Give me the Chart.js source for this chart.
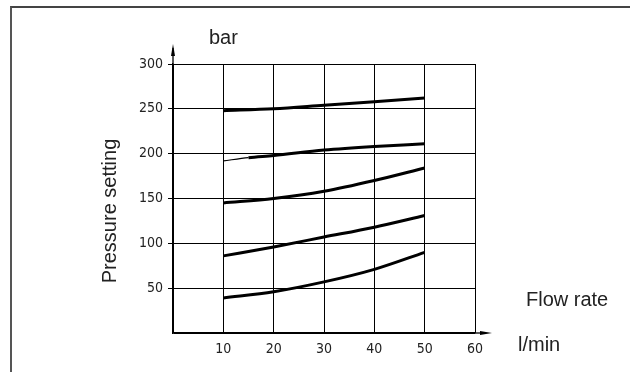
<!DOCTYPE html>
<html>
<head>
<meta charset="utf-8">
<script src="https://cdn.jsdelivr.net/npm/chart.js@4.4.1/dist/chart.umd.min.js"></script>
<style>
  body { margin: 0; background: #fff; }
  #wrap { position: relative; width: 630px; height: 372px; }
  #frame { position: absolute; left: 10px; top: 6px; right: 0; bottom: 0;
           border-left: 2px solid #555; border-top: 2px solid #444; }
  canvas { position: absolute; left: 0; top: 0; }
</style>
</head>
<body>
<div id="wrap">
  <div id="frame"></div>
  <canvas id="myChart" width="630" height="372"></canvas>
</div>
<script>
"use strict"

// flow rate in l/min
const flow = [10, 20, 30, 40, 50];
const flowB = [10, 15, 20, 30, 40, 50];

// pressure setting curves in bar
const curve250 = [248, 250, 254, 258, 262];
const curve200 = [192, 195.5, 198, 204, 208, 211];
const curve150 = [145, 150, 158, 170, 184];
const curve100 = [86, 96, 107, 118, 131];
const curve50 = [39, 46, 57, 71, 90];

const xTicks = [10, 20, 30, 40, 50, 60];
const yTicks = [50, 100, 150, 200, 250, 300];

const ctx = document.getElementById('myChart');
const tickFont = { family: '"DejaVu Sans Condensed", "DejaVu Sans", sans-serif', size: 14 };

function toPoints (xs, ys) {
    return xs.map((x, i) => ({ x: x, y: ys[i] }));
}

function line (xs, ys) {
    return {
        data: toPoints(xs, ys),
        borderColor: '#000',
        borderWidth: 3,
        pointRadius: 0,
        cubicInterpolationMode: 'monotone',
        fill: false,
    };
}

const set200 = line(flowB, curve200);
// first bit of this curve is drawn thin
set200.segment = { borderWidth: c => c.p0DataIndex === 0 ? 1.2 : 3 };

const decorations = {
    id: 'decorations',
    afterDraw(chart) {
        const c = chart.ctx;
        const a = chart.chartArea;
        c.save();
        c.strokeStyle = '#000';
        c.fillStyle = '#000';
        c.lineWidth = 1.3;

        // y axis arrow
        c.beginPath();
        c.moveTo(a.left, a.top);
        c.lineTo(a.left, 48);
        c.stroke();
        c.beginPath();
        c.moveTo(a.left, 44);
        c.lineTo(a.left - 2, 56);
        c.lineTo(a.left + 2, 56);
        c.closePath();
        c.fill();

        // x axis arrow
        c.beginPath();
        c.moveTo(a.right, a.bottom);
        c.lineTo(486, a.bottom);
        c.stroke();
        c.beginPath();
        c.moveTo(492, a.bottom);
        c.lineTo(480, a.bottom - 2);
        c.lineTo(480, a.bottom + 2);
        c.closePath();
        c.fill();

        // labels
        c.fillStyle = '#222';
        c.font = '20px "Liberation Sans", Arial, sans-serif';
        c.textBaseline = 'middle';
        c.textAlign = 'left';
        c.fillText('bar', 209, 38);
        c.fillText('Flow rate', 526, 300);
        c.fillText('l/min', 518, 345);

        c.translate(110, 211);
        c.rotate(-Math.PI / 2);
        c.textAlign = 'center';
        c.fillText('Pressure setting', 0, 0);
        c.restore();
    }
};

new Chart(ctx, {
    type: 'line',
    data: {
        datasets: [
            line(flow, curve250),
            set200,
            line(flow, curve150),
            line(flow, curve100),
            line(flow, curve50),
        ]
    },
    options: {
        responsive: false,
        animation: false,
        devicePixelRatio: 1,
        layout: {
            padding: { left: 0, right: 155, top: 64, bottom: 0 }
        },
        plugins: {
            legend: { display: false },
            tooltip: { enabled: false },
        },
        scales: {
            x: {
                type: 'linear',
                min: 0,
                max: 60,
                afterFit: s => { s.height = 39; },
                afterBuildTicks: s => { s.ticks = [0].concat(xTicks).map(v => ({ value: v })); },
                grid: {
                    color: '#000',
                    lineWidth: 1,
                    drawTicks: false,
                },
                border: { color: '#000', width: 1.3 },
                ticks: {
                    padding: 8,
                    color: '#222',
                    font: tickFont,
                    callback: v => v === 0 ? '' : v,
                },
            },
            y: {
                type: 'linear',
                min: 0,
                max: 300,
                afterFit: s => { s.width = 173; },
                afterBuildTicks: s => { s.ticks = [0].concat(yTicks).map(v => ({ value: v })); },
                grid: {
                    color: '#000',
                    lineWidth: 1,
                    tickLength: 5,
                    tickColor: c => c.tick.value === 0 ? 'rgba(0,0,0,0)' : '#000',
                },
                border: { color: '#000', width: 1.3 },
                ticks: {
                    padding: 5,
                    color: '#222',
                    font: tickFont,
                    callback: v => v === 0 ? '' : v,
                },
            },
        },
    },
    plugins: [decorations],
});
</script>
</body>
</html>
